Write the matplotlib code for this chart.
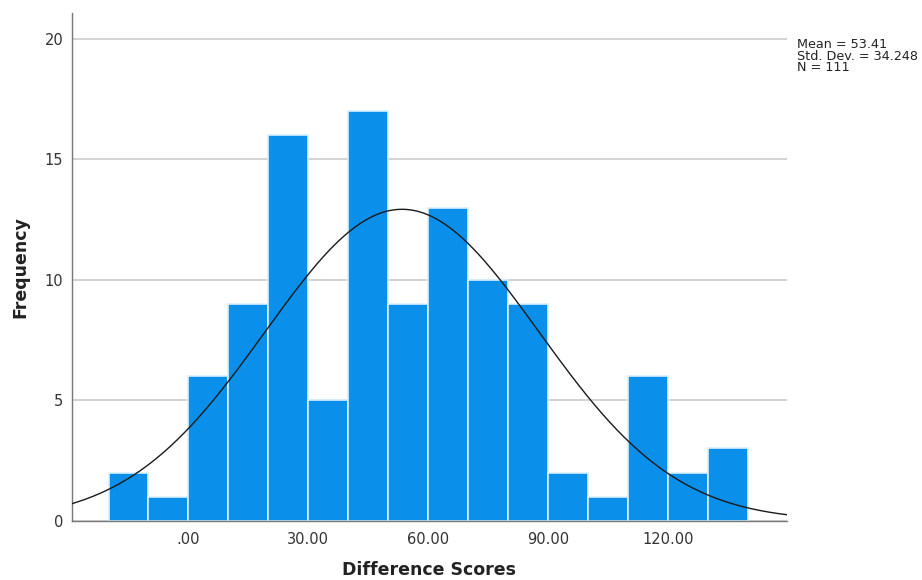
import matplotlib.pyplot as plt
import numpy as np

# bin edges (width 10) and frequencies
bin_left = [-20, -10, 0, 10, 20, 30, 40, 50, 60, 70, 80, 90, 100, 110, 120, 130]
freq = [2, 1, 6, 9, 16, 5, 17, 9, 13, 10, 9, 2, 1, 6, 2, 3]
bin_width = 10

mean = 53.41
std = 34.248
n = 111

xtick_vals = [0, 30, 60, 90, 120]
xtick_labels = ['.00', '30.00', '60.00', '90.00', '120.00']
ytick_vals = [0, 5, 10, 15, 20]

fig = plt.figure(figsize=(9.22, 5.80), dpi=100)
ax = fig.add_axes([0.0778, 0.1022, 0.7758, 0.8754])

ax.bar(bin_left, freq, width=bin_width, align='edge', color='#0a8fea',
       edgecolor='#d8f0ff', linewidth=1.2, zorder=2)

# normal curve scaled to counts
xs = np.linspace(-29.2, 149.7, 400)
ys = n * bin_width / (std * np.sqrt(2 * np.pi)) * np.exp(-0.5 * ((xs - mean) / std) ** 2)
ax.plot(xs, ys, color='#1a1a1a', linewidth=1.0, zorder=3)

ax.set_xlim(-29.2, 149.7)
ax.set_ylim(0, 21.08)
ax.set_xticks(xtick_vals)
ax.set_xticklabels(xtick_labels)
ax.set_yticks(ytick_vals)
ax.tick_params(axis='both', length=0, labelsize=10.5, colors='#333333', pad=8)
ax.tick_params(axis='y', pad=6)
ax.yaxis.grid(True, color='#cccccc', linewidth=1.2, zorder=0)
ax.set_axisbelow(True)

for s in ['top', 'right']:
    ax.spines[s].set_visible(False)
for s in ['left', 'bottom']:
    ax.spines[s].set_color('#777777')
    ax.spines[s].set_linewidth(1.0)

ax.set_xlabel('Difference Scores', fontsize=12.5, fontweight='bold', color='#222222')
ax.set_ylabel('Frequency', fontsize=12.5, fontweight='bold', color='#222222')
ax.xaxis.set_label_coords(0.5, -0.097)
ax.yaxis.set_label_coords(-0.0723, 0.5)
ax.xaxis.label.set_va('center')
ax.yaxis.label.set_va('center')

fig.text(797 / 922, 1 - 38 / 580, 'Mean = %.2f\nStd. Dev. = %.3f\nN = %i' % (mean, std, n),
         fontsize=9.2, color='#222222', va='top', ha='left', linespacing=0.85)

plt.savefig('out.png', dpi=100, facecolor='w')
